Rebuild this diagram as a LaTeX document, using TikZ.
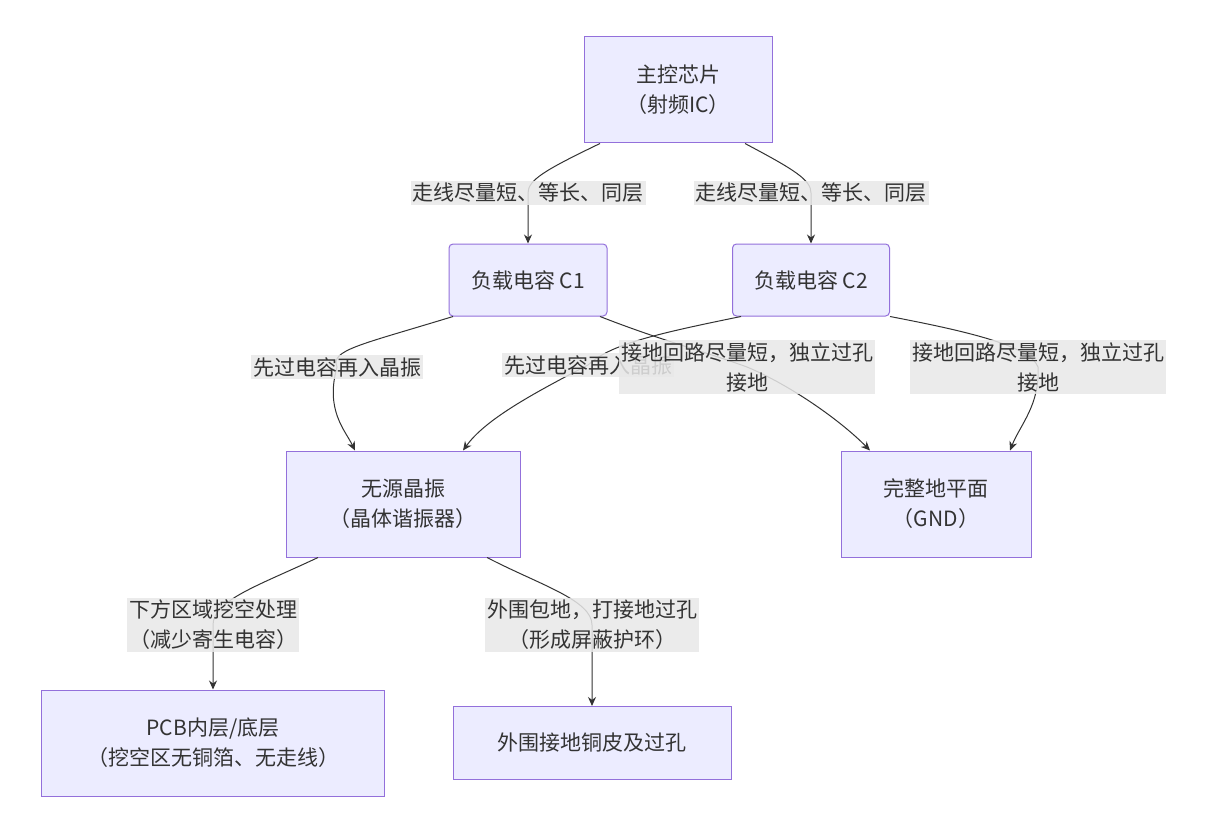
\documentclass[tikz,border=0pt]{standalone}
\usepackage{fontspec}
\setmainfont{Noto Sans CJK SC}
\usetikzlibrary{arrows.meta}
\definecolor{boxfill}{HTML}{ECECFF}
\definecolor{boxdraw}{HTML}{9370DB}
\definecolor{lblfill}{HTML}{E8E8E8}
\definecolor{edgecol}{HTML}{333333}
\tikzset{
  box/.style = {rectangle, draw=boxdraw, fill=boxfill, line width=1pt,
    align=center, font=\fontsize{21}{30}\selectfont, text=edgecol,
    inner sep=0pt},% node box
  lbl/.style = {fill=lblfill, fill opacity=0.85, text opacity=1,
    align=center, font=\fontsize{21}{30}\selectfont, text=edgecol,
    inner sep=2pt},% edge label
  arr/.style = {-{Stealth[length=9pt,width=8pt]}, draw=edgecol, line width=1pt}
}
\begin{document}
\begin{tikzpicture}[x=1pt,y=-1pt]
\fill[white] (0,0) rectangle (1218,837);
\useasboundingbox (0,0) rectangle (1218,837);
% nodes
\node[box, minimum width=188, minimum height=106] (ic) at (678,90) {主控芯片\\（射频IC）};
\node[box, minimum width=158, minimum height=72, rounded corners=4pt] (c1) at (528,280) {负载电容 C1};
\node[box, minimum width=157, minimum height=72, rounded corners=4pt] (c2) at (811,280) {负载电容 C2};
\node[box, minimum width=234, minimum height=106] (xtal) at (403,504) {无源晶振\\（晶体谐振器）};
\node[box, minimum width=190, minimum height=106] (gnd) at (936,504) {完整地平面\\（GND）};
\node[box, minimum width=343, minimum height=106] (pcb) at (213,743) {PCB内层/底层\\（挖空区无铜箔、无走线）};
\node[box, minimum width=278, minimum height=73] (ring) at (592,743) {外围接地铜皮及过孔};
% label points
\coordinate (p1) at (528,193);
\coordinate (p2) at (811,193);
\coordinate (p3) at (337,367);
\coordinate (p4) at (588,365);
\coordinate (p5) at (747,367);
\coordinate (p6) at (1038,367);
\coordinate (p7) at (213,625);
\coordinate (p8) at (592,625);
% edges
\draw[arr] ([xshift=-78]ic.south) .. controls (545,170) and (528,180) .. (p1) -- (c1);
\draw[arr] ([xshift=67]ic.south) .. controls (795,170) and (811,180) .. (p2) -- (c2);
\draw[arr] ([xshift=-75]c1.south) .. controls (360,345) and (330,350) .. (p3) .. controls (325,410) and (345,430) .. ([xshift=-48]xtal.north);
\draw[arr] ([xshift=-70]c2.south) .. controls (650,335) and (610,345) .. (p4) .. controls (530,395) and (485,420) .. ([xshift=60]xtal.north);
\draw[arr] ([xshift=72]c1.south) .. controls (660,340) and (700,350) .. (p5) .. controls (790,385) and (840,420) .. ([xshift=-66]gnd.north);
\draw[arr] ([xshift=79]c2.south) .. controls (960,330) and (1030,345) .. (p6) .. controls (1040,405) and (1020,425) .. ([xshift=74]gnd.north);
\draw[arr] ([xshift=-85]xtal.south) .. controls (260,585) and (213,600) .. (p7) -- (pcb);
\draw[arr] ([xshift=84]xtal.south) .. controls (540,585) and (592,600) .. (p8) -- (ring);
% labels
\node[lbl] at (p1) {走线尽量短、等长、同层};
\node[lbl] at (p2) {走线尽量短、等长、同层};
\node[lbl] at (p3) {先过电容再入晶振};
\node[lbl] at (p4) {先过电容再入晶振};
\node[lbl] at (p5) {接地回路尽量短，独立过孔\\接地};
\node[lbl] at (p6) {接地回路尽量短，独立过孔\\接地};
\node[lbl] at (p7) {下方区域挖空处理\\（减少寄生电容）};
\node[lbl] at (p8) {外围包地，打接地过孔\\（形成屏蔽护环）};
\end{tikzpicture}
\end{document}
